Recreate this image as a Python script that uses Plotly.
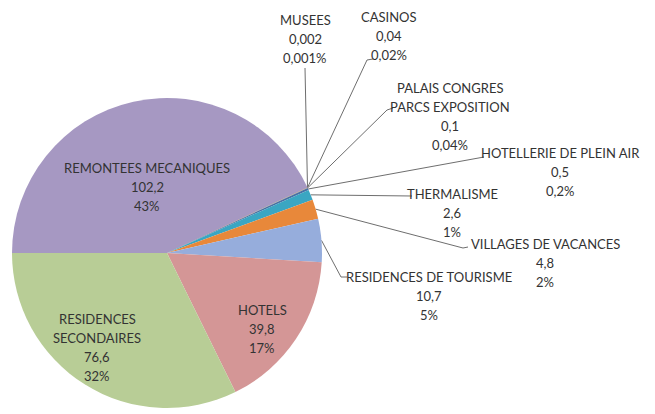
import math
import plotly.graph_objects as go

# slice order, clockwise from 9 o'clock
categories = [
    "REMONTEES MECANIQUES",
    "MUSEES",
    "CASINOS",
    "PALAIS CONGRES PARCS EXPOSITION",
    "HOTELLERIE DE PLEIN AIR",
    "THERMALISME",
    "VILLAGES DE VACANCES",
    "RESIDENCES DE TOURISME",
    "HOTELS",
    "RESIDENCES SECONDAIRES",
]
values = [102.2, 0.002, 0.04, 0.1, 0.5, 2.6, 4.8, 10.7, 39.8, 76.6]
value_labels = ["102,2", "0,002", "0,04", "0,1", "0,5", "2,6", "4,8", "10,7", "39,8", "76,6"]
pct_labels = ["43%", "0,001%", "0,02%", "0,04%", "0,2%", "1%", "2%", "5%", "17%", "32%"]
name_lines = [
    ["REMONTEES MECANIQUES"],
    ["MUSEES"],
    ["CASINOS"],
    ["PALAIS CONGRES", "PARCS EXPOSITION"],
    ["HOTELLERIE DE PLEIN AIR"],
    ["THERMALISME"],
    ["VILLAGES DE VACANCES"],
    ["RESIDENCES DE TOURISME"],
    ["HOTELS"],
    ["RESIDENCES", "SECONDAIRES"],
]

colors = ["#A698C2", "#4F81BD", "#C0504D", "#9BBB59", "#4A6FA5", "#3AA6C2",
          "#E8883A", "#96ADDC", "#D49696", "#B8CD96"]

W, H = 655, 414
CX, CY, R = 167, 253, 155
ROTATION = 270
FONT = "Lato, 'Open Sans', sans-serif"
TEXT_COLOR = "#333333"
LINE_GAP = 19

# label layout: text centre, elbow of leader line (None = inside label), hook end
label_pos = {
    "REMONTEES MECANIQUES": ((147, 187), None, None),
    "MUSEES": ((305, 39), (305, 68), None),
    "CASINOS": ((389, 36), (367, 60), (373, 59)),
    "PALAIS CONGRES PARCS EXPOSITION": ((450, 116), (387, 110), (393, 108)),
    "HOTELLERIE DE PLEIN AIR": ((560, 172), (480, 157), (484, 157)),
    "THERMALISME": ((452, 213), (408, 196), (412, 196)),
    "VILLAGES DE VACANCES": ((545, 263), (463, 248), (468, 247)),
    "RESIDENCES DE TOURISME": ((429, 296), (341, 277), (347, 277)),
    "HOTELS": ((262, 329), None, None),
    "RESIDENCES SECONDAIRES": ((97, 347), None, None),
}

fig = go.Figure()

fig.add_trace(go.Pie(
    labels=categories,
    values=values,
    sort=False,
    direction="clockwise",
    rotation=ROTATION,
    marker=dict(colors=colors, line=dict(width=0)),
    textinfo="none",
    hoverinfo="skip",
    showlegend=False,
    domain=dict(x=[(CX - R) / W, (CX + R) / W], y=[1 - (CY + R) / H, 1 - (CY - R) / H]),
))

# leader lines from the middle of each small slice
total = sum(values)
lx, ly = [], []
cum = 0
for cat, v in zip(categories, values):
    mid = math.radians(ROTATION + (cum + v / 2) / total * 360)
    cum += v
    _, elbow, hook = label_pos[cat]
    if elbow is None:
        continue
    px = CX + R * math.sin(mid)
    py = CY - R * math.cos(mid)
    lx += [px, elbow[0]]
    ly += [py, elbow[1]]
    if hook:
        lx.append(hook[0])
        ly.append(hook[1])
    lx.append(None)
    ly.append(None)

fig.add_trace(go.Scatter(
    x=lx, y=ly, mode="lines",
    line=dict(color="#6e6e6e", width=1),
    hoverinfo="skip", showlegend=False,
))

# one annotation per text line so the line spacing matches
for i, cat in enumerate(categories):
    (tx, ty), _, _ = label_pos[cat]
    lines = name_lines[i] + [value_labels[i], pct_labels[i]]
    for k, txt in enumerate(lines):
        fig.add_annotation(
            x=tx, y=ty + (k - (len(lines) - 1) / 2) * LINE_GAP,
            xref="x", yref="y", text=txt,
            showarrow=False, xanchor="center", yanchor="middle",
            font=dict(family=FONT, size=13, color=TEXT_COLOR),
        )

fig.update_layout(
    width=W, height=H,
    margin=dict(l=0, r=0, t=0, b=0),
    paper_bgcolor="white", plot_bgcolor="rgba(0,0,0,0)",
    xaxis=dict(range=[0, W], visible=False, fixedrange=True),
    yaxis=dict(range=[H, 0], visible=False, fixedrange=True),
)

fig.write_html("out.html", config={"displayModeBar": False},
               post_script="document.body.style.margin = '0';")
